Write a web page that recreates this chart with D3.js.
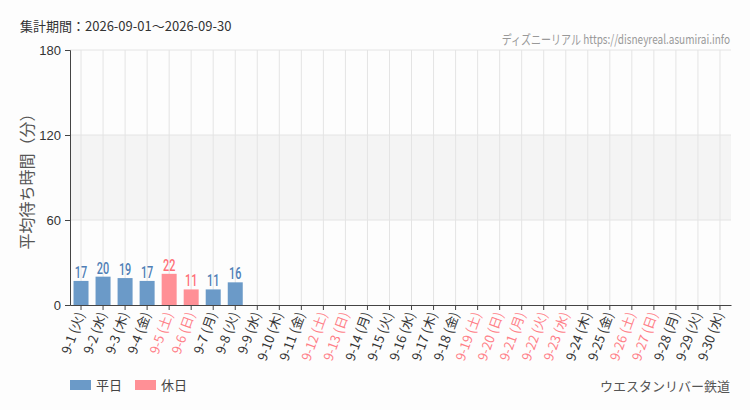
<!DOCTYPE html>
<html>
<head>
<meta charset="utf-8">
<script src="https://cdn.jsdelivr.net/npm/d3@7"></script>
<style>
  body { margin: 0; background: #fdfdfd; }
  svg { font-family: "Noto Sans CJK JP", "Noto Sans", sans-serif; }
</style>
</head>
<body>
<div id="vis-container"></div>
<script>
// categories (day labels), holiday flags and values
const days = ["9-1","9-2","9-3","9-4","9-5","9-6","9-7","9-8","9-9","9-10",
  "9-11","9-12","9-13","9-14","9-15","9-16","9-17","9-18","9-19","9-20",
  "9-21","9-22","9-23","9-24","9-25","9-26","9-27","9-28","9-29","9-30"];
const weekdays = ["火","水","木","金","土","日","月","火","水","木",
  "金","土","日","月","火","水","木","金","土","日",
  "月","火","水","木","金","土","日","月","火","水"];
const holiday = [0,0,0,0,1,1,0,0,0,0, 0,1,1,0,0,0,0,0,1,1, 1,1,1,0,0,1,1,0,0,0];
const waits = [17,20,19,17,22,11,11,16,null,null, null,null,null,null,null,null,null,null,null,null,
  null,null,null,null,null,null,null,null,null,null];
const yTicks = [0, 60, 120, 180];

const width = 750, height = 410;
const margins = {top: 50, right: 19, bottom: 105, left: 70};
const visWidth = width - margins.left - margins.right;
const visHeight = height - margins.top - margins.bottom;

const blue = "#6b9ac8", pink = "#ff9096";
const blueText = "#4f7fb6", pinkText = "#ff6f77";

let svg = d3.select("#vis-container").append("svg").attr("width", width).attr("height", height);

let data = days.map((d, i) => ({day: d, wd: weekdays[i], hol: holiday[i], v: waits[i]}));

let xScale = d3.scaleBand().domain(days).range([0, visWidth]).paddingInner(0).paddingOuter(0);
let yScale = d3.scaleLinear().domain([0, 180]).range([visHeight, 0]);

let viewport = svg.append("g").attr("transform", "translate(" + margins.left + "," + margins.top + ")");

// shaded band 60-120
viewport.append("rect")
  .attr("x", 0).attr("width", visWidth)
  .attr("y", yScale(120)).attr("height", yScale(60) - yScale(120))
  .attr("fill", "#f4f4f4");

// vertical grid at category centers
viewport.append("g").selectAll("line").data(days).enter().append("line")
  .attr("x1", d => xScale(d) + xScale.bandwidth() / 2)
  .attr("x2", d => xScale(d) + xScale.bandwidth() / 2)
  .attr("y1", 0).attr("y2", visHeight)
  .attr("stroke", "#e4e4e4").attr("stroke-width", 1);

// horizontal grid
viewport.append("g").selectAll("line").data(yTicks.filter(t => t > 0)).enter().append("line")
  .attr("x1", 0).attr("x2", visWidth)
  .attr("y1", d => yScale(d)).attr("y2", d => yScale(d))
  .attr("stroke", "#e4e4e4").attr("stroke-width", 1);

// bars
let barW = 15;
let withVal = data.filter(d => d.v != null);
viewport.append("g").selectAll("rect").data(withVal).enter().append("rect")
  .attr("x", d => xScale(d.day) + xScale.bandwidth() / 2 - barW / 2)
  .attr("width", barW)
  .attr("y", d => yScale(d.v))
  .attr("height", d => visHeight - yScale(d.v))
  .attr("fill", d => d.hol ? pink : blue);

// value labels (narrow look -> squeeze horizontally)
viewport.append("g").selectAll("text").data(withVal).enter().append("text")
  .attr("transform", d => "translate(" + (xScale(d.day) + xScale.bandwidth() / 2) + "," + (yScale(d.v) - 3) + ") scale(0.68,1)")
  .attr("text-anchor", "middle")
  .attr("font-family", "Roboto, sans-serif")
  .attr("font-weight", 500)
  .attr("font-size", 16)
  .attr("fill", d => d.hol ? pinkText : blueText)
  .text(d => d.v);

// y axis
let yAxis = viewport.append("g")
  .call(d3.axisLeft(yScale).tickValues(yTicks).tickSize(5).tickPadding(4));
yAxis.select(".domain").attr("stroke", "#444");
yAxis.selectAll(".tick line").attr("stroke", "#444");
yAxis.selectAll(".tick text").attr("font-size", 13).attr("fill", "#333")
  .attr("font-family", "Liberation Sans, Arial, sans-serif");

// x axis
let xAxis = viewport.append("g")
  .attr("transform", "translate(0," + visHeight + ")")
  .call(d3.axisBottom(xScale).tickSize(5).tickSizeOuter(0).tickFormat(""));
xAxis.select(".domain").attr("stroke", "#444");
xAxis.selectAll(".tick line").attr("stroke", "#444");

// rotated x labels
viewport.append("g").selectAll("text").data(data).enter().append("text")
  .attr("transform", d => "translate(" + (xScale(d.day) + xScale.bandwidth() / 2 + 4) + "," + (visHeight + 9) + ") rotate(-70)")
  .attr("text-anchor", "end")
  .attr("font-size", 13)
  .attr("fill", d => d.hol ? "#ff8088" : "#333")
  .text(d => d.day + " (" + d.wd + ")");

// y axis title
svg.append("text")
  .attr("transform", "translate(33," + (margins.top + visHeight / 2) + ") rotate(-90)")
  .attr("text-anchor", "middle")
  .attr("font-size", 16).attr("fill", "#555")
  .text("平均待ち時間（分）");

// header
svg.append("text").attr("x", 20).attr("y", 31)
  .attr("font-size", 13).attr("fill", "#333")
  .text("集計期間：2026-09-01～2026-09-30");
svg.append("text")
  .attr("transform", "translate(730,44) scale(0.77,1)")
  .attr("text-anchor", "end")
  .attr("font-size", 13).attr("fill", "#999")
  .text("ディズニーリアル https://disneyreal.asumirai.info");

// legend
let legend = [{label: "平日", color: blue}, {label: "休日", color: pink}];
let lg = svg.append("g").selectAll("g").data(legend).enter().append("g")
  .attr("transform", (d, i) => "translate(" + (70 + i * 65) + ",380)");
lg.append("rect").attr("width", 21).attr("height", 10).attr("fill", d => d.color);
lg.append("text").attr("x", 26).attr("y", 10).attr("font-size", 13).attr("fill", "#444").text(d => d.label);

svg.append("text").attr("x", 730).attr("y", 391)
  .attr("text-anchor", "end").attr("font-size", 13).attr("fill", "#555")
  .text("ウエスタンリバー鉄道");
</script>
</body>
</html>
